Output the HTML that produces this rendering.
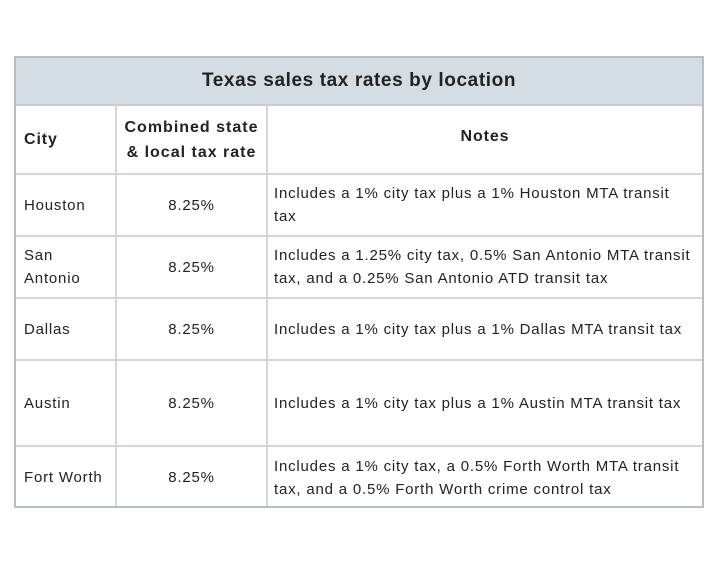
<!DOCTYPE html>
<html><head><style>
html,body{margin:0;padding:0;background:#fff;width:720px;height:568px;overflow:hidden}
.t{position:absolute;left:14px;top:56px;width:690px;height:452px;border:2px solid #b9bec4;box-sizing:border-box;font-family:"Liberation Sans",sans-serif;color:#222}
.c{position:absolute;box-sizing:border-box;display:flex;align-items:center;font-size:15px;line-height:23px;letter-spacing:0.8px}
.vl{position:absolute;top:47px;bottom:0;width:2px;background:#d3d7db}
.hl{position:absolute;left:0;right:0;height:2px;background:#d3d7db}
</style></head><body>
<div class="t">
<div style="position:absolute;left:0;right:0;top:0;height:46px;background:#d4dce4;border-bottom:2px solid #c5ccd3;display:flex;align-items:center;justify-content:center;font-weight:bold;font-size:19px;letter-spacing:0.6px">Texas sales tax rates by location</div>
<div class="vl" style="left:99px"></div>
<div class="vl" style="left:250px"></div>
<div class="hl" style="top:115px"></div>
<div class="hl" style="top:177px"></div>
<div class="hl" style="top:239px"></div>
<div class="hl" style="top:301px"></div>
<div class="hl" style="top:387px"></div>

<div class="c" style="left:8px;top:48px;height:67px;font-weight:bold;font-size:16px;letter-spacing:0.9px">City</div>
<div class="c" style="left:101px;width:149px;top:48px;height:67px;justify-content:center;text-align:center;font-weight:bold;font-size:16px;line-height:25px;letter-spacing:1px">Combined state<br>&amp; local tax rate</div>
<div class="c" style="left:252px;right:0;top:48px;height:67px;justify-content:center;font-weight:bold;font-size:16px;padding-bottom:6px;letter-spacing:0.9px">Notes</div>

<div class="c" style="left:8px;top:117px;height:60px">Houston</div>
<div class="c" style="left:101px;width:149px;top:117px;height:60px;justify-content:center">8.25%</div>
<div class="c" style="left:258px;right:6px;top:117px;height:60px">Includes a 1% city tax plus a 1% Houston MTA transit tax</div>

<div class="c" style="left:8px;top:179px;height:60px">San<br>Antonio</div>
<div class="c" style="left:101px;width:149px;top:179px;height:60px;justify-content:center">8.25%</div>
<div class="c" style="left:258px;right:4px;top:179px;height:60px">Includes a 1.25% city tax, 0.5% San Antonio MTA transit tax, and a 0.25% San Antonio ATD transit tax</div>

<div class="c" style="left:8px;top:241px;height:60px">Dallas</div>
<div class="c" style="left:101px;width:149px;top:241px;height:60px;justify-content:center">8.25%</div>
<div class="c" style="left:258px;right:2px;top:241px;height:60px">Includes a 1% city tax plus a 1% Dallas MTA transit tax</div>

<div class="c" style="left:8px;top:303px;height:84px">Austin</div>
<div class="c" style="left:101px;width:149px;top:303px;height:84px;justify-content:center">8.25%</div>
<div class="c" style="left:258px;right:2px;top:303px;height:84px">Includes a 1% city tax plus a 1% Austin MTA transit tax</div>

<div class="c" style="left:8px;top:389px;height:61px">Fort Worth</div>
<div class="c" style="left:101px;width:149px;top:389px;height:61px;justify-content:center">8.25%</div>
<div class="c" style="left:258px;right:4px;top:389px;height:61px">Includes a 1% city tax, a 0.5% Forth Worth MTA transit tax, and a 0.5% Forth Worth crime control tax</div>
</div>
</body></html>
